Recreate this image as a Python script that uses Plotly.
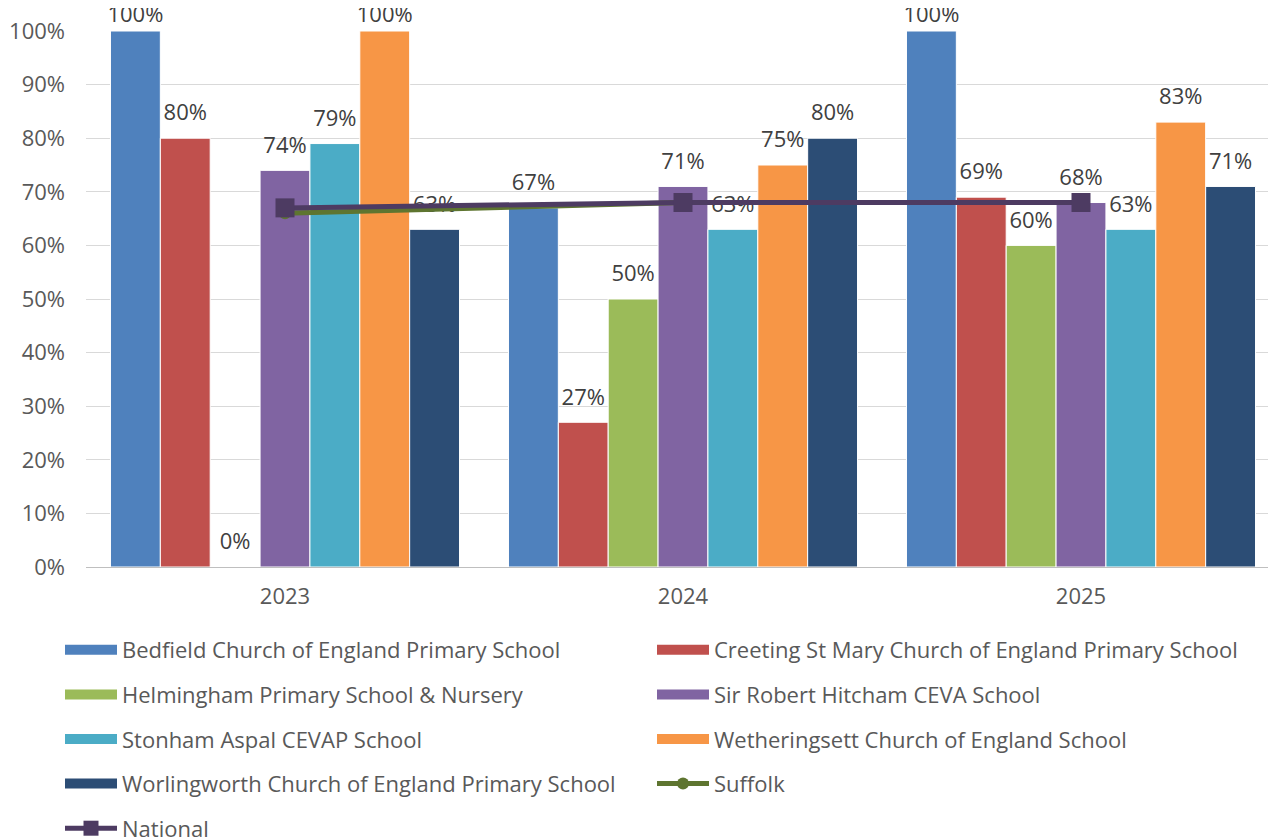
import plotly.graph_objects as go

years = ["2023", "2024", "2025"]
schools = [
    "Bedfield Church of England Primary School",
    "Creeting St Mary Church of England Primary School",
    "Helmingham Primary School & Nursery",
    "Sir Robert Hitcham CEVA School",
    "Stonham Aspal CEVAP School",
    "Wetheringsett Church of England School",
    "Worlingworth Church of England Primary School",
]
bedfield = [1.00, 0.67, 1.00]
creeting = [0.80, 0.27, 0.69]
helmingham = [0.00, 0.50, 0.60]
sir_robert = [0.74, 0.71, 0.68]
stonham = [0.79, 0.63, 0.63]
wetheringsett = [1.00, 0.75, 0.83]
worlingworth = [0.63, 0.80, 0.71]
suffolk = [0.66, 0.68, 0.68]
national = [0.67, 0.68, 0.68]

school_values = [bedfield, creeting, helmingham, sir_robert, stonham, wetheringsett, worlingworth]
colors = ["#4F81BD", "#C0504D", "#9BBB59", "#8064A2", "#4BACC6", "#F79646", "#2C4D75"]
suffolk_color = "#5E7530"
national_color = "#4D3B62"

FONT = "Open Sans"
TXT = "#404040"
AX = "#595959"
FS = 22


def label(v):
    core = "<span style='font-size:22px'>{:.0%}</span>".format(v)
    # labels at the top of the axis stay inside the chart area (no extra spacing)
    return core if v >= 1 else core + "<br> "


fig = go.Figure()
for name, vals, col in zip(schools, school_values, colors):
    fig.add_trace(go.Bar(
        x=years, y=vals, name=name, marker=dict(color=col, line=dict(color="white", width=1)),
        text=[label(v) for v in vals], texttemplate="%{text}",
        textposition="outside", constraintext="none", cliponaxis=False,
        textfont=dict(family=FONT, size=9, color=TXT), showlegend=False,
    ))

fig.add_trace(go.Scatter(x=years, y=suffolk, name="Suffolk", mode="lines+markers",
                         line=dict(color=suffolk_color, width=5),
                         marker=dict(symbol="circle", size=12, color=suffolk_color),
                         showlegend=False, cliponaxis=False))
fig.add_trace(go.Scatter(x=years, y=national, name="National", mode="lines+markers",
                         line=dict(color=national_color, width=5),
                         marker=dict(symbol="square", size=19, color=national_color),
                         showlegend=False, cliponaxis=False))

# legend entries
col1 = [(schools[0], colors[0], None), (schools[2], colors[2], None), (schools[4], colors[4], None),
        (schools[6], colors[6], None), ("National", national_color, "square")]
col2 = [(schools[1], colors[1], None), (schools[3], colors[3], None), (schools[5], colors[5], None),
        ("Suffolk", suffolk_color, "circle")]
for legend_id, items in (("legend", col1), ("legend2", col2)):
    for name, col, sym in items:
        if sym is None:
            fig.add_trace(go.Scatter(x=[None], y=[None], name=name, mode="lines",
                                     line=dict(color=col, width=14), legend=legend_id,
                                     legendgroup=name))
        else:
            fig.add_trace(go.Scatter(x=[None], y=[None], name=name, mode="lines+markers",
                                     line=dict(color=col, width=5),
                                     marker=dict(symbol=sym, size=12 if sym == "circle" else 15, color=col),
                                     legend=legend_id, legendgroup=name))

legend_common = dict(xref="container", yref="container", yanchor="top", xanchor="left",
                     orientation="v", tracegroupgap=13, itemwidth=52,
                     font=dict(family=FONT, size=FS, color=AX), bgcolor="rgba(0,0,0,0)")

fig.update_layout(
    width=1276, height=840,
    margin=dict(l=78, r=4, t=23, b=281, autoexpand=False),
    paper_bgcolor="white", plot_bgcolor="white",
    barmode="group", bargap=0.123, bargroupgap=0,
    font=dict(family=FONT, size=FS, color=AX),
    xaxis=dict(type="category", showline=True, linecolor="#BFBFBF", linewidth=1,
               ticks="", tickfont=dict(family=FONT, size=FS, color=AX),
               ticklabelstandoff=10, range=[-0.5, 2.5]),
    yaxis=dict(range=[0, 1], dtick=0.1, tickformat=".0%", showgrid=True,
               gridcolor="#D9D9D9", gridwidth=1, zeroline=False, ticks="",
               ticklabelstandoff=20,
               tickfont=dict(family=FONT, size=FS, color=AX)),
    legend=dict(x=52 / 1276, y=1 - 621 / 840, **legend_common),
    legend2=dict(x=644 / 1276, y=1 - 621 / 840, **legend_common),
)

fig.write_html("out.html")
